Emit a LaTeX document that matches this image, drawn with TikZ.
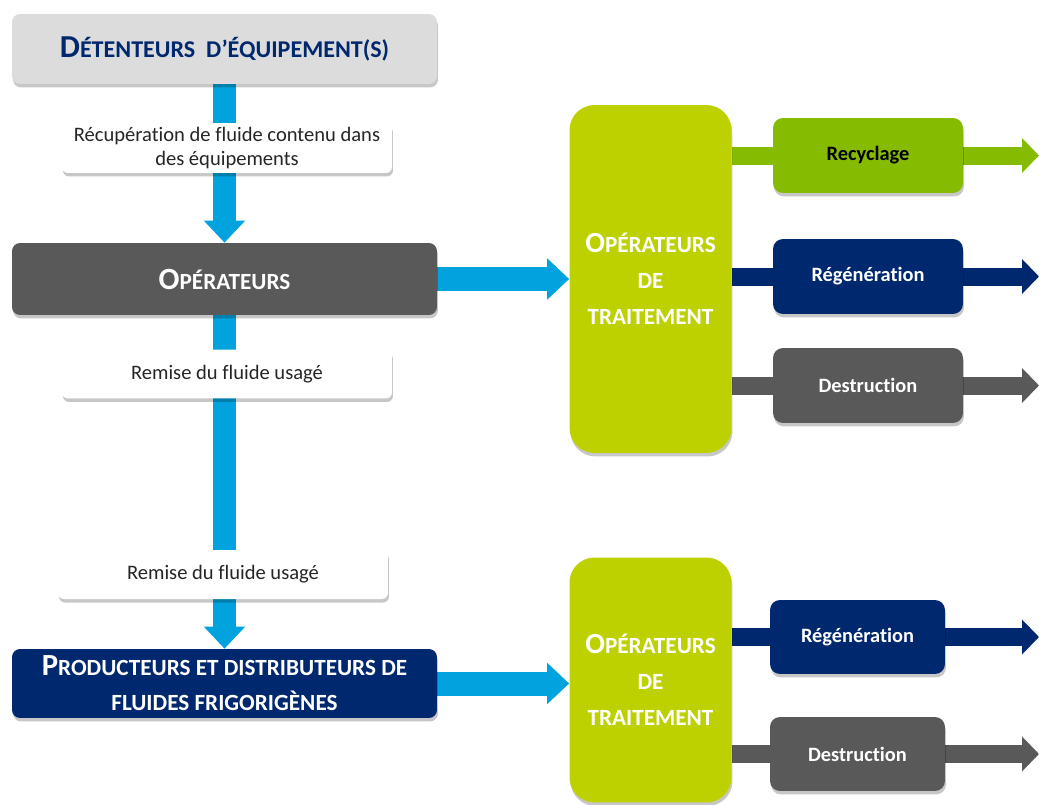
\documentclass[tikz,border=0pt]{standalone}
\usepackage{fontspec}
\setmainfont{Carlito}[Ligatures=NoCommon]
\definecolor{SkyBlue}{HTML}{00A3DE}
\definecolor{PaleGray}{HTML}{DCDCDC}
\definecolor{SlateGray}{HTML}{595959}
\definecolor{Navy}{HTML}{00286F}
\definecolor{Lime}{HTML}{BDD100}
\definecolor{Leaf}{HTML}{85BB00}
\definecolor{InkGray}{HTML}{262626}
\usetikzlibrary{arrows.meta,positioning,shadows,backgrounds}
\newcommand\initcap[2]{{\fontsize{#1}{#1}\selectfont #2}}

\begin{document}
\begin{tikzpicture}[x=0.02cm, y=-0.02cm,
      softshadow/.style={drop shadow={opacity=0.22, fill=black,
                         shadow xshift=0.02cm, shadow yshift=-0.07cm}},
      actor/.style={rounded corners=0.16cm, softshadow,
                    minimum width=8.5cm, inner sep=0pt, align=center,
                    font=\bfseries\fontsize{13.7}{20}\selectfont},
      note/.style={rounded corners=0.12cm, fill=white, softshadow,
                   minimum width=6.6cm, minimum height=0.98cm,
                   inner sep=0pt, align=center, text=InkGray,
                   font=\fontsize{11.7}{14.2}\selectfont},
      plant/.style={rounded corners=0.5cm, fill=Lime, softshadow,
                    minimum width=3.24cm, inner sep=0pt,
                    text=white, align=center,
                    font=\bfseries\fontsize{13.2}{20.4}\selectfont},
      fate/.style={rounded corners=0.2cm, softshadow, inner sep=0pt,
                   font=\bfseries\fontsize{11.6}{13}\selectfont, text=white},
      flow/.style={-{Triangle[length=0.44cm, width=0.8cm]},
                   SkyBlue, line width=0.48cm},
      outflow/.style={-{Triangle[length=0.34cm, width=0.68cm]},
                      line width=0.36cm}]

  \useasboundingbox (0,0) rectangle (1039,805);

  % left column
  \node[actor, fill=PaleGray, text=Navy, minimum height=1.4cm]
        (det) at (224.5,49) {\initcap{18.2}{D}ÉTENTEURS~~D’ÉQUIPEMENT(S)};
  \node[actor, fill=SlateGray, text=white, minimum height=1.44cm,
        font=\bfseries\fontsize{13.2}{20}\selectfont]
        (ope) at (224.5,279) {\initcap{17.6}{O}PÉRATEURS};
  \node[actor, fill=Navy, text=white, minimum height=1.38cm,
        font=\bfseries\fontsize{13.2}{20}\selectfont]
        (prod) at (224.5,683.5)
        {\initcap{17.5}{P}RODUCTEURS ET DISTRIBUTEURS DE\\FLUIDES FRIGORIGÈNES};

  % treatment operators
  \node[plant, minimum height=6.96cm] (trt1) at (650.5,279)
        {\initcap{16.6}{O}PÉRATEURS\\DE\\TRAITEMENT};
  \node[plant, minimum height=4.9cm] (trt2) at (650.5,680)
        {\initcap{16.6}{O}PÉRATEURS\\DE\\TRAITEMENT};

  % outcomes
  \node[fate, fill=Leaf, text=black, minimum width=3.8cm, minimum height=1.5cm]
        (rec) at (868,155.5) {Recyclage};
  \node[fate, fill=Navy, minimum width=3.8cm, minimum height=1.5cm]
        (reg) at (868,276.5) {Régénération};
  \node[fate, fill=SlateGray, minimum width=3.8cm, minimum height=1.5cm]
        (des) at (868,385.5) {Destruction};
  \node[fate, fill=Navy, minimum width=3.5cm, minimum height=1.48cm]
        (regb) at (857.5,637) {Régénération};
  \node[fate, fill=SlateGray, minimum width=3.5cm, minimum height=1.48cm]
        (desb) at (857.5,754) {Destruction};

  \coordinate (edge) at (1039,0);

  \begin{scope}[on background layer]
    \draw[flow] (det.south) -- (ope.north);
    \draw[flow] (ope.south) -- (prod.north);
    \draw[flow] (ope.east) -- (ope.east -| trt1.west);
    \draw[flow] (prod.east) -- (prod.east -| trt2.west);
    \foreach \dest/\col in {rec/Leaf, reg/Navy, des/SlateGray}
      \draw[outflow, \col] (trt1.east |- \dest.center) -- (\dest.center -| edge);
    \foreach \dest/\col in {regb/Navy, desb/SlateGray}
      \draw[outflow, \col] (trt2.east |- \dest.center) -- (\dest.center -| edge);
  \end{scope}

  % labels on the flows
  \node[note, minimum height=1.0cm] (lrec) at (227,148)
        {Récupération de fluide contenu dans\\des équipements};
  \node[note] (lrem) at (227,374) {Remise du fluide usagé};
  \node[note] (lremb) at (223,574.5) {Remise du fluide usagé};
\end{tikzpicture}
\end{document}
